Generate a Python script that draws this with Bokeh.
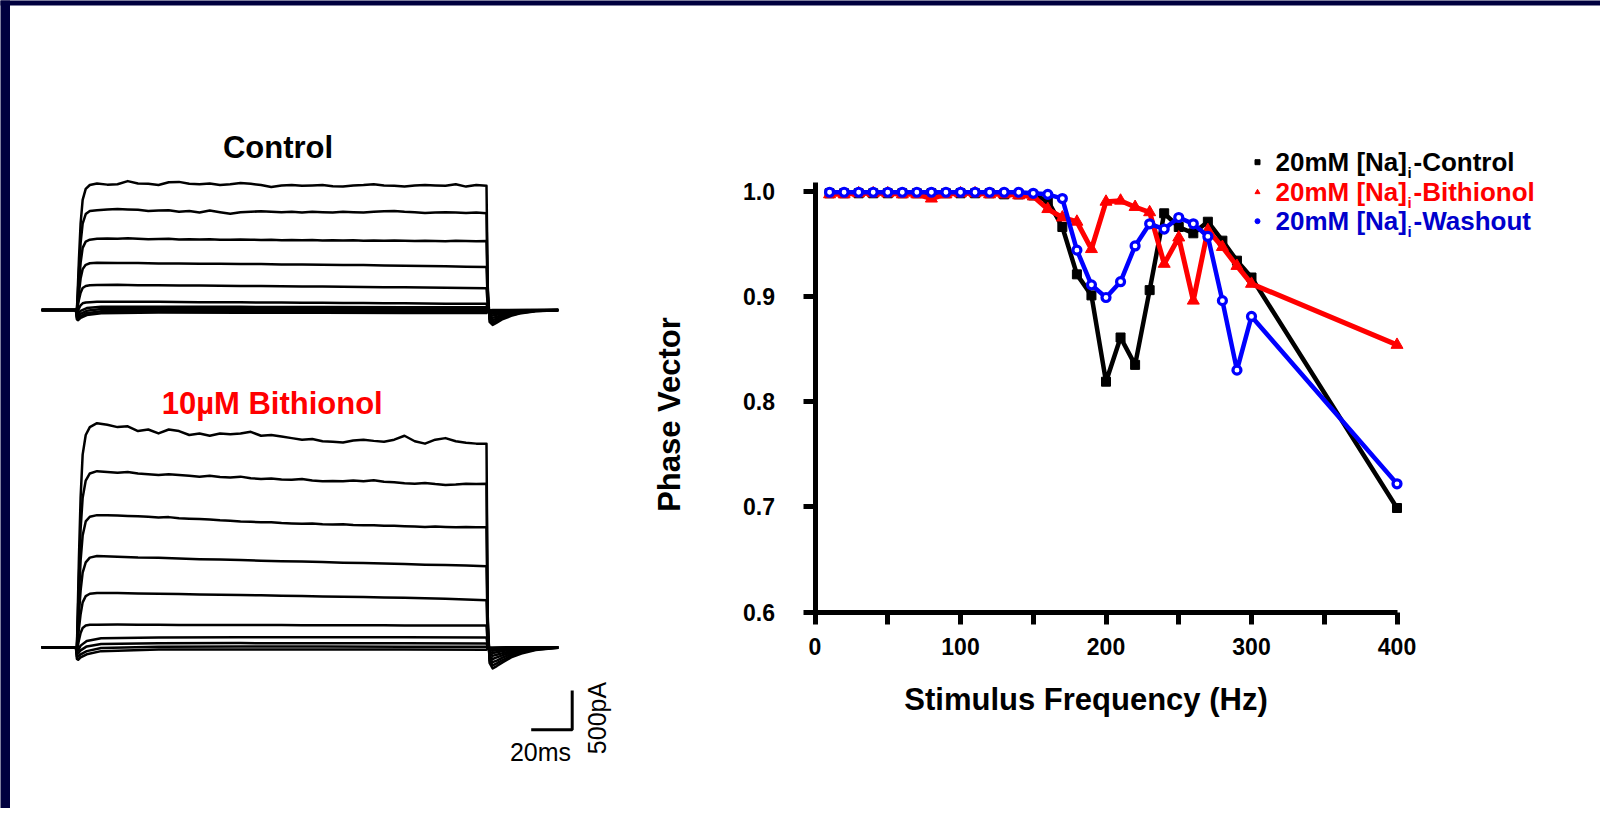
from bokeh.plotting import figure
from bokeh.models import FixedTicker, Range1d, LinearAxis, PrintfTickFormatter
from bokeh.core.properties import value
from bokeh.embed import file_html
from bokeh.resources import INLINE
import math

FONT = value("Liberation Sans")

# ======================= DATA =======================
# --- Phase vector vs stimulus frequency ---
freq_hz = [10, 20, 30, 40, 50, 60, 70, 80, 90, 100, 110, 120, 130, 140, 150,
           160, 170, 180, 190, 200, 210, 220, 230, 240, 250, 260, 270, 280,
           290, 300, 400]
pv_control = [0.998, 0.998, 0.998, 0.998, 0.998, 0.998, 0.998, 0.998, 0.998,
              0.998, 0.998, 0.998, 0.997, 0.997, 0.996, 0.991, 0.966, 0.921,
              0.901, 0.819, 0.861, 0.835, 0.906, 0.979, 0.966, 0.960, 0.971,
              0.953, 0.934, 0.918, 0.699]
pv_bithionol = [0.997, 0.997, 0.998, 0.998, 0.998, 0.997, 0.997, 0.993, 0.997,
                0.998, 0.998, 0.997, 0.997, 0.996, 0.995, 0.983, 0.975, 0.971,
                0.945, 0.990, 0.991, 0.985, 0.980, 0.931, 0.956, 0.896, 0.963,
                0.947, 0.929, 0.912, 0.854]
pv_washout = [0.999, 0.999, 0.999, 0.999, 0.999, 0.999, 0.999, 0.999, 0.999,
              0.999, 0.999, 0.999, 0.999, 0.999, 0.998, 0.997, 0.993, 0.944,
              0.911, 0.899, 0.914, 0.948, 0.969, 0.964, 0.975, 0.969, 0.957,
              0.896, 0.830, 0.881, 0.722]

x_ticks = [0, 50, 100, 150, 200, 250, 300, 350, 400]
x_tick_labels = ["0", "", "100", "", "200", "", "300", "", "400"]
y_ticks = [0.6, 0.7, 0.8, 0.9, 1.0]

x_title = "Stimulus Frequency (Hz)"
y_title = "Phase Vector"
legend_prefix = "20mM [Na]"
legend_sub = "i"
legend_suffix = ["-Control", "-Bithionol", "-Washout"]

# --- Current traces (time in ms, current in pA) ---
t_fine = ([-17, -0.3, 0.2, 0.6, 1.2, 2, 3, 4.5, 6.5] + list(range(10, 201, 5)) +
          [200.6, 201.5, 203, 205, 208, 212, 217, 224, 235])
t_coarse = ([-17, -0.3, 0.2, 0.6, 1.2, 2, 3, 4.5, 6.5] + list(range(10, 201, 10)) +
            [200.6, 201.5, 203, 205, 208, 212, 217, 224, 235])
t_sparse = [-17, -0.3, 0.2, 0.8, 2, 5, 12, 40, 80, 120, 160, 200, 200.8, 203,
            210, 220, 235]

# Control
ctrl_1 = ([0, 0, 0, 250, 650, 1100, 1400, 1540, 1590] +
          [1610, 1595, 1600, 1640, 1610, 1605, 1590, 1625, 1630, 1605,
           1600, 1610, 1590, 1600, 1615, 1605, 1590, 1565, 1585, 1590,
           1580, 1585, 1590, 1575, 1570, 1585, 1590, 1600, 1585, 1580,
           1570, 1585, 1590, 1585, 1580, 1600, 1570, 1590, 1580] +
          [300, -150, -190, -160, -115, -75, -40, -15, -3])
ctrl_2 = ([0, 0, 0, 180, 500, 850, 1100, 1220, 1260] +
          [1270, 1280, 1285, 1280, 1275, 1260, 1265, 1270, 1250, 1260,
           1240, 1265, 1245, 1225, 1245, 1250, 1255, 1250, 1245, 1250,
           1240, 1250, 1245, 1240, 1250, 1245, 1240, 1250, 1255, 1260,
           1250, 1245, 1235, 1240, 1245, 1240, 1235, 1240, 1230] +
          [250, -120, -160, -135, -100, -65, -35, -12, -2])
ctrl_3 = ([0, 0, 0, 120, 330, 600, 790, 870, 895] +
          [905, 910, 908, 912, 905, 900, 903, 906, 898, 900,
           896, 900, 895, 893, 897, 895, 890, 893, 888, 890,
           887, 890, 885, 888, 884, 886, 882, 885, 880, 884,
           880, 878, 882, 879, 876, 880, 877, 875, 878] +
          [180, -100, -130, -110, -80, -50, -28, -10, -2])
ctrl_4 = ([0, 0, 0, 80, 220, 400, 520, 575, 595] +
          [600, 597, 598, 593, 592, 589, 588, 584, 584, 579,
           578, 576, 572, 571, 566, 564, 560, 557, 551, 548] +
          [110, -75, -100, -85, -65, -40, -22, -8, -1])
ctrl_5 = ([0, 0, -20, 50, 130, 220, 280, 305, 315] +
          [318, 320, 316, 315, 313, 312, 310, 306, 305, 303,
           300, 298, 296, 293, 291, 289, 286, 284, 281, 278] +
          [60, -50, -70, -60, -45, -30, -17, -6, -1])
ctrl_6 = ([0, 0, -40, -20, 20, 60, 85, 95, 100] +
          [104, 106, 105, 104, 102, 100, 99, 98, 96, 95,
           93, 92, 90, 88, 87, 85, 83, 81, 80, 78] +
          [20, -30, -45, -40, -30, -20, -11, -4, 0])
ctrl_7 = [0, 0, -60, -50, -10, 25, 40, 42, 40, 38, 36, 34, -10, -25, -15, -6, 0]
ctrl_8 = [0, 0, -80, -80, -50, -10, 12, 15, 14, 12, 12, 10, -10, -15, -8, -3, 0]
ctrl_9 = [0, 0, -100, -110, -80, -40, -15, -8, -10, -10, -12, -12, -8, -5, -3, -1, 0]
ctrl_10 = [0, 0, -120, -130, -100, -65, -40, -32, -35, -35, -37, -38, -5, 0, 0, 0, 0]

# 10 uM Bithionol
bith_1 = ([0, 0, 0, 450, 1150, 1900, 2450, 2700, 2800] +
          [2850, 2830, 2800, 2810, 2750, 2770, 2720, 2770, 2750, 2700,
           2720, 2690, 2720, 2710, 2720, 2740, 2690, 2700, 2680, 2660,
           2640, 2650, 2620, 2615, 2605, 2630, 2640, 2625, 2615, 2640,
           2690, 2620, 2590, 2640, 2660, 2620, 2600, 2590, 2590] +
          [400, -200, -270, -240, -190, -130, -80, -35, -8])
bith_2 = ([0, 0, 0, 350, 900, 1500, 1900, 2120, 2210] +
          [2240, 2230, 2220, 2230, 2210, 2200, 2190, 2200, 2190, 2180,
           2170, 2180, 2165, 2160, 2170, 2150, 2140, 2145, 2135, 2130,
           2140, 2120, 2110, 2115, 2110, 2120, 2110, 2125, 2105, 2100,
           2085, 2080, 2090, 2075, 2065, 2070, 2080, 2075, 2080] +
          [330, -170, -230, -205, -160, -110, -65, -28, -6])
bith_3 = ([0, 0, 0, 250, 650, 1100, 1420, 1600, 1660] +
          [1680, 1680, 1675, 1670, 1665, 1660, 1650, 1655, 1640, 1635,
           1630, 1625, 1615, 1610, 1600, 1595, 1590, 1590, 1580, 1575,
           1570, 1575, 1565, 1560, 1565, 1555, 1550, 1550, 1545, 1545,
           1540, 1535, 1530, 1535, 1530, 1525, 1530, 1525, 1525] +
          [250, -140, -190, -170, -130, -90, -52, -22, -5])
bith_4 = ([0, 0, 0, 170, 430, 720, 950, 1080, 1140] +
          [1160, 1150, 1140, 1138, 1130, 1120, 1115, 1110, 1100, 1095,
           1090, 1085, 1075, 1070, 1065, 1058, 1050, 1045, 1040, 1030] +
          [160, -110, -150, -130, -100, -70, -40, -16, -3])
bith_5 = ([0, 0, -20, 80, 240, 420, 570, 650, 680] +
          [690, 688, 684, 680, 676, 672, 668, 664, 660, 655,
           650, 646, 642, 638, 632, 628, 622, 616, 608, 598] +
          [90, -80, -110, -95, -75, -50, -28, -11, -2])
bith_6 = ([0, 0, -40, 10, 90, 180, 245, 275, 285] +
          [286, 288, 286, 285, 284, 284, 283, 282, 282, 281,
           280, 280, 279, 279, 278, 277, 277, 276, 276, 275] +
          [40, -55, -75, -65, -50, -33, -18, -7, -1])
bith_7 = [0, 0, -60, -40, 20, 80, 115, 124, 126, 127, 126, 125, -20, -45, -25, -9, 0]
bith_8 = [0, 0, -90, -80, -40, 10, 40, 50, 52, 50, 50, 48, -15, -25, -12, -4, 0]
bith_9 = [0, 0, -120, -120, -90, -50, -10, 5, 8, 8, 6, 5, -10, -12, -5, -2, 0]
bith_10 = [0, 0, -150, -160, -130, -90, -50, -30, -28, -30, -30, -32, -5, -3, -1, 0, 0]

panel_titles = ["Control", "10µM Bithionol"]
scale_ms = 20
scale_pa = 500

# ======================= LAYOUT =======================
W, H = 1600, 808          # canvas placed at the page origin

AX_X0 = 814.5             # page x of 0 Hz
PX_PER_HZ = 1.455
AX_Y06 = 611.7            # page y of 0.6
PX_PER_PV = 1052.5


def hz(px):
    return (px - AX_X0) / PX_PER_HZ


def pv(py):
    return 0.6 + (AX_Y06 - py) / PX_PER_PV


PX_PER_MS = 2.05
PULSE_X = 76.0
PX_PER_PA = 39.3 / 500.0
BASE_BITH = 646.7
BASE_CTRL = 309.5
CTRL_OFFSET = (BASE_BITH - BASE_CTRL) / PX_PER_PA


def lt(px):
    return (px - PULSE_X) / PX_PER_MS


def li(py):
    return (BASE_BITH - py) / PX_PER_PA


p = figure(width=W, height=H,
           x_range=Range1d(hz(0), hz(W)), y_range=Range1d(pv(H), pv(0)),
           x_axis_type=None, y_axis_type=None, min_border=0,
           toolbar_location=None, output_backend="svg")
p.outline_line_color = None
p.extra_x_ranges = {"ms": Range1d(lt(0), lt(W))}
p.extra_y_ranges = {"pa": Range1d(li(H), li(0))}

# dark page border (left and top)
NAVY = "#00003F"
p.quad(left=[hz(-2), hz(-2)], right=[hz(9.5), hz(W + 2)],
       bottom=[pv(H + 2), pv(5)], top=[pv(-2), pv(-2)],
       fill_color=NAVY, line_color=None)

# ---------- traces ----------
ctrl_traces = [(t_fine, ctrl_1), (t_fine, ctrl_2), (t_fine, ctrl_3),
               (t_coarse, ctrl_4), (t_coarse, ctrl_5), (t_coarse, ctrl_6),
               (t_sparse, ctrl_7), (t_sparse, ctrl_8), (t_sparse, ctrl_9),
               (t_sparse, ctrl_10)]
bith_traces = [(t_fine, bith_1), (t_fine, bith_2), (t_fine, bith_3),
               (t_coarse, bith_4), (t_coarse, bith_5), (t_coarse, bith_6),
               (t_sparse, bith_7), (t_sparse, bith_8), (t_sparse, bith_9),
               (t_sparse, bith_10)]
for tt, vv in ctrl_traces:
    p.line(tt, [v + CTRL_OFFSET for v in vv], line_width=2.5, color="black",
           line_join="round", x_range_name="ms", y_range_name="pa")
for tt, vv in bith_traces:
    p.line(tt, vv, line_width=2.5, color="black", line_join="round",
           x_range_name="ms", y_range_name="pa")

p.text(x=[hz(277.5)], y=[pv(146.7)], text=[panel_titles[0]],
       text_font=FONT, text_font_size="31px", text_font_style="bold",
       text_color="black", text_align="center", text_baseline="middle")
p.text(x=[hz(271.7)], y=[pv(403.0)], text=[panel_titles[1]],
       text_font=FONT, text_font_size="31px", text_font_style="bold",
       text_color="#FF0000", text_align="center", text_baseline="middle")

# scale bar
sb_t0 = lt(530.7)
sb_i0 = li(729.3)
p.line([sb_t0, sb_t0 + scale_ms, sb_t0 + scale_ms],
       [sb_i0, sb_i0, sb_i0 + scale_pa], line_width=3, color="black",
       x_range_name="ms", y_range_name="pa")
p.text(x=[hz(540)], y=[pv(751)], text=["%dms" % scale_ms],
       text_font=FONT, text_font_size="25px", text_color="black",
       text_align="center", text_baseline="middle")
p.text(x=[hz(596)], y=[pv(717.5)], text=["%dpA" % scale_pa], angle=math.pi / 2,
       text_font=FONT, text_font_size="25px", text_color="black",
       text_align="center", text_baseline="middle")

# ---------- phase vector chart ----------
xa = LinearAxis(fixed_location=0.6, bounds=(-7.5, 400),
                ticker=FixedTicker(ticks=x_ticks),
                major_label_overrides=dict(zip(x_ticks, x_tick_labels)))
ya = LinearAxis(fixed_location=0, bounds=(0.6, 1.0083),
                ticker=FixedTicker(ticks=y_ticks),
                formatter=PrintfTickFormatter(format="%.1f"))
for ax in (xa, ya):
    ax.axis_line_width = 5
    ax.axis_line_color = "black"
    ax.major_tick_line_width = 5
    ax.major_tick_line_color = "black"
    ax.major_tick_out = 12
    ax.major_tick_in = 0
    ax.minor_tick_line_color = None
    ax.major_label_text_font = "Liberation Sans"
    ax.major_label_text_font_size = "23px"
    ax.major_label_text_font_style = "bold"
    ax.major_label_text_color = "black"
xa.major_label_standoff = 14
ya.major_label_standoff = 28
p.add_layout(xa, "below")
p.add_layout(ya, "left")

p.text(x=[hz(1085.5)], y=[pv(699)], text=[x_title], text_font=FONT,
       text_font_size="31px", text_font_style="bold", text_color="black",
       text_align="center", text_baseline="middle")
p.text(x=[hz(669)], y=[pv(414)], text=[y_title], angle=math.pi / 2, text_font=FONT,
       text_font_size="31px", text_font_style="bold", text_color="black",
       text_align="center", text_baseline="middle")

BLUE = "#0000FF"
RED = "#FF0000"
p.line(freq_hz, pv_control, line_width=4.5, color="black", line_join="round")
p.scatter(freq_hz, pv_control, marker="square", size=9, color="black")
p.line(freq_hz, pv_bithionol, line_width=5, color=RED, line_join="round")
p.scatter(freq_hz, pv_bithionol, marker="triangle", size=12, color=RED)
p.line(freq_hz, pv_washout, line_width=4.5, color=BLUE, line_join="round")
p.scatter(freq_hz, pv_washout, marker="circle", size=8, line_color=BLUE,
          line_width=3.2, fill_color="white")

# legend
leg_y = [pv(161.7), pv(191.7), pv(220.7)]
leg_colors = ["black", RED, "#0000CC"]
leg_markers = ["square", "triangle", "circle"]
leg_mcolors = ["black", RED, BLUE]
for k in range(3):
    p.scatter([hz(1257)], [leg_y[k]], marker=leg_markers[k], size=5,
              color=leg_mcolors[k])
    p.text(x=[hz(1275)], y=[leg_y[k]], text=[legend_prefix],
           text_font=FONT, text_font_size="26px", text_font_style="bold",
           text_color=leg_colors[k], text_align="left", text_baseline="middle")
    p.text(x=[hz(1275)], y=[leg_y[k]], text=[legend_sub], x_offset=132,
           y_offset=10, text_font=FONT, text_font_size="15px",
           text_font_style="bold", text_color=leg_colors[k],
           text_align="left", text_baseline="middle")
    p.text(x=[hz(1275)], y=[leg_y[k]], text=[legend_suffix[k]], x_offset=138,
           text_font=FONT, text_font_size="26px", text_font_style="bold",
           text_color=leg_colors[k], text_align="left", text_baseline="middle")

open("out.html", "w").write(file_html(p, INLINE))
